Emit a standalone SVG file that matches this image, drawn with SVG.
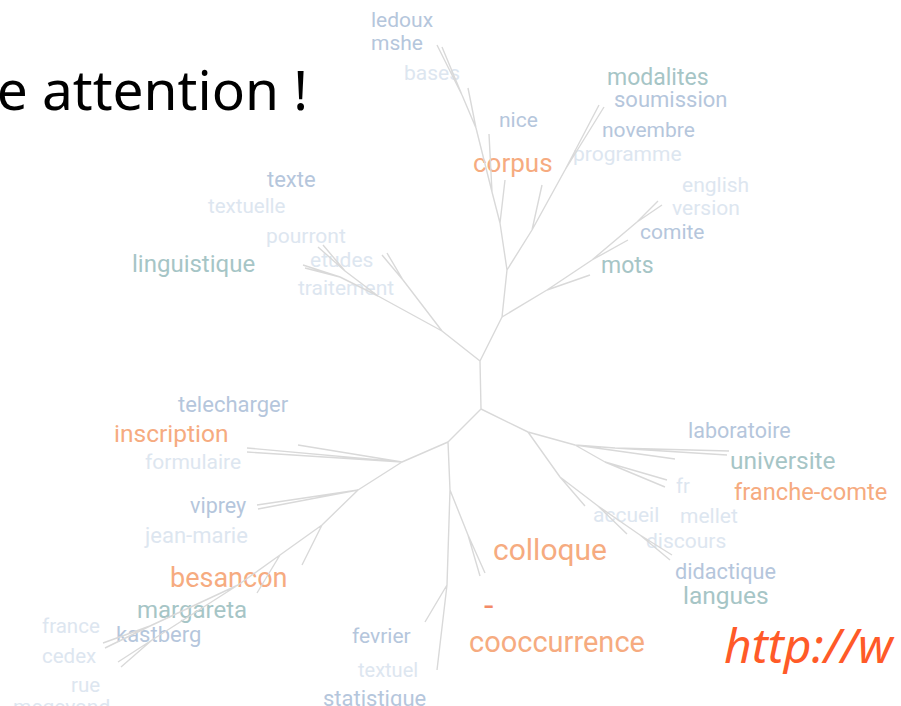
<svg xmlns="http://www.w3.org/2000/svg" width="901" height="706" viewBox="0 0 901 706">
<style>
text{font-family:Roboto,"Liberation Sans",sans-serif}
.o{fill:#f6ab80}
.t{fill:#a6c5c6}
.b{fill:#b5c6dc}
.p{fill:#dde6f0}
.title{font-family:"Noto Sans","Open Sans",sans-serif;fill:#000}
.url{font-family:"Noto Sans","Open Sans",sans-serif;font-style:italic;fill:#ff5a28}
.e{fill:none;stroke:#d9d9d9;stroke-width:1.4}
</style>
<rect width="901" height="706" fill="#fff"/>
<g id="title"><text class="title" x="308" y="110" font-size="55" text-anchor="end">e attention !</text></g>
<g id="url"><text class="url" x="724" y="663" font-size="48">http://w</text></g>
<g id="words">
<g id="n-ledoux"><text class="b" x="371" y="27" font-size="21">ledoux</text></g>
<g id="n-mshe"><text class="b" x="371" y="50" font-size="21">mshe</text></g>
<g id="n-bases"><text class="p" x="404" y="80" font-size="21">bases</text></g>
<g id="n-nice"><text class="b" x="499" y="127" font-size="21">nice</text></g>
<g id="n-corpus"><text class="o" x="473" y="172" font-size="26">corpus</text></g>
<g id="n-modalites"><text class="t" x="607" y="85" font-size="23">modalites</text></g>
<g id="n-soumission"><text class="b" x="614" y="107" font-size="22">soumission</text></g>
<g id="n-novembre"><text class="b" x="602" y="137" font-size="21">novembre</text></g>
<g id="n-programme"><text class="p" x="573" y="161" font-size="21">programme</text></g>
<g id="n-english"><text class="p" x="682" y="192" font-size="21">english</text></g>
<g id="n-version"><text class="p" x="672" y="215" font-size="21">version</text></g>
<g id="n-comite"><text class="b" x="640" y="239" font-size="21">comite</text></g>
<g id="n-mots"><text class="t" x="601" y="273" font-size="23">mots</text></g>
<g id="n-texte"><text class="b" x="267" y="187" font-size="22">texte</text></g>
<g id="n-textuelle"><text class="p" x="208" y="213" font-size="20.5">textuelle</text></g>
<g id="n-pourront"><text class="p" x="266" y="243" font-size="21">pourront</text></g>
<g id="n-linguistique"><text class="t" x="132" y="272" font-size="24">linguistique</text></g>
<g id="n-etudes"><text class="p" x="310" y="267" font-size="21">etudes</text></g>
<g id="n-traitement"><text class="p" x="298" y="295" font-size="21">traitement</text></g>
<g id="n-telecharger"><text class="b" x="178" y="412" font-size="22">telecharger</text></g>
<g id="n-inscription"><text class="o" x="114" y="442" font-size="24.5">inscription</text></g>
<g id="n-formulaire"><text class="p" x="145" y="469" font-size="21">formulaire</text></g>
<g id="n-viprey"><text class="b" x="190" y="513" font-size="21.5">viprey</text></g>
<g id="n-jean-marie"><text class="p" x="145" y="543" font-size="22">jean-marie</text></g>
<g id="n-besancon"><text class="o" x="170" y="587" font-size="27">besancon</text></g>
<g id="n-margareta"><text class="t" x="137" y="618" font-size="24">margareta</text></g>
<g id="n-kastberg"><text class="b" x="116" y="642" font-size="22">kastberg</text></g>
<g id="n-france"><text class="p" x="42" y="633" font-size="20.5">france</text></g>
<g id="n-cedex"><text class="p" x="42" y="663" font-size="20.5">cedex</text></g>
<g id="n-rue"><text class="p" x="71" y="692" font-size="20.5">rue</text></g>
<g id="n-megevand"><text class="p" x="13" y="714" font-size="21">megevand</text></g>
<g id="n-fevrier"><text class="b" x="352" y="643" font-size="21">fevrier</text></g>
<g id="n-textuel"><text class="p" x="358" y="677" font-size="20">textuel</text></g>
<g id="n-statistique"><text class="b" x="323" y="706" font-size="22">statistique</text></g>
<g id="n-colloque"><text class="o" x="493" y="560" font-size="30">colloque</text></g>
<g id="n-dash"><text x="484" y="617" font-size="34" fill="#f38a68">-</text></g>
<g id="n-cooccurrence"><text class="o" x="469" y="652" font-size="29">cooccurrence</text></g>
<g id="n-laboratoire"><text class="b" x="688" y="438" font-size="21.5">laboratoire</text></g>
<g id="n-universite"><text class="t" x="730" y="469" font-size="24.5">universite</text></g>
<g id="n-franche-comte"><text class="o" x="734" y="500" font-size="23.7">franche-comte</text></g>
<g id="n-fr"><text class="p" x="676" y="493" font-size="20">fr</text></g>
<g id="n-accueil"><text class="p" x="593" y="522" font-size="21">accueil</text></g>
<g id="n-mellet"><text class="p" x="680" y="523" font-size="21">mellet</text></g>
<g id="n-discours"><text class="p" x="646" y="548" font-size="21">discours</text></g>
<g id="n-didactique"><text class="b" x="675" y="579" font-size="21.7">didactique</text></g>
<g id="n-langues"><text class="t" x="683" y="604" font-size="24.5">langues</text></g>
</g>
<g id="connectors">
<path class="e" d="M480 361 L481 409
M480 361 L442 331 M442 331 L403 280 M403 280 L387 253 M403 280 L382 255
M442 331 L378 296 M378 296 L340 277 M340 277 L303 265 M340 277 L305 268 M378 296 L345 271 M345 271 L318 247 M345 271 L323 245
M480 361 L502 317 M502 317 L547 290 M547 290 L590 275 M547 290 L592 260 M592 260 L628 240 M592 260 L637 222 M637 222 L658 201 M637 222 L662 205
M502 317 L507 270 M507 270 L500 223 M500 223 L505 180 M500 223 L492 192 M492 192 L489 134 M492 192 L476 128 M476 128 L468 88 M476 128 L462 95 M462 95 L437 45 M462 95 L442 47
M507 270 L532 230 M532 230 L542 185 M532 230 L565 170 M565 170 L599 105 M565 170 L604 107
M481 409 L448 442 M448 442 L402 462 M402 462 L298 445 M402 462 L247 448 M402 462 L247 452
M402 462 L358 490 M358 490 L257 505 M358 490 L258 509 M358 490 L322 525 M322 525 L302 565 M322 525 L280 555 M280 555 L257 593 M280 555 L238 585
M238 585 L150 626 M150 626 L103 643 M150 626 L105 648 M238 585 L152 640 M152 640 L118 662 M152 640 L121 667
M448 442 L450 490 M450 490 L468 535 M468 535 L485 573 M468 535 L480 576 M450 490 L447 585 M447 585 L425 622 M447 585 L437 670
M481 409 L528 432 M528 432 L575 445 M575 445 L675 459 M575 445 L615 448 M615 448 L729 451 M615 448 L727 455 M575 445 L605 462 M605 462 L667 480 M605 462 L665 487
M528 432 L560 477 M560 477 L585 506 M560 477 L598 506 M598 506 L627 534 M598 506 L640 535 M640 535 L672 555 M640 535 L670 560"/>
</g>
</svg>
